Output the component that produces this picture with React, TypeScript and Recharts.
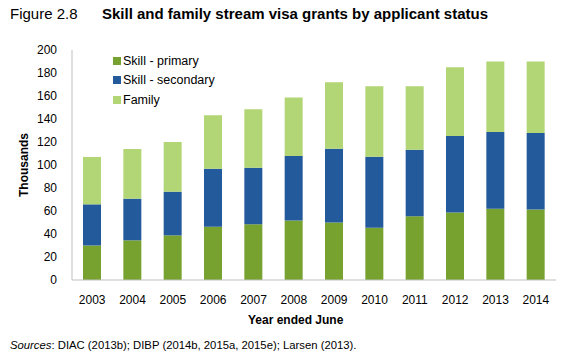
import { BarChart, Bar, XAxis, YAxis } from 'recharts';

const years = ['2003', '2004', '2005', '2006', '2007', '2008', '2009', '2010', '2011', '2012', '2013', '2014'];
const skillPrimary = [30, 34.5, 38.8, 46.4, 48.4, 51.7, 49.9, 45.5, 55.4, 58.6, 62, 61.2];
const skillSecondary = [35.8, 36.2, 38, 50.4, 49.3, 56.1, 64.3, 61.7, 57.9, 66.6, 66.7, 66.6];
const family = [41.2, 43.2, 43.2, 46.4, 50.7, 51, 57.7, 61.2, 55.1, 59.7, 61.4, 62.3];
const yTicks = [0, 20, 40, 60, 80, 100, 120, 140, 160, 180, 200];

const series = [
  { key: 'primary', name: 'Skill - primary', color: '#77A22F' },
  { key: 'secondary', name: 'Skill - secondary', color: '#235A9B' },
  { key: 'family', name: 'Family', color: '#B2D575' },
];

const data = years.map((year, i) => ({
  year,
  primary: skillPrimary[i],
  secondary: skillSecondary[i],
  family: family[i],
}));

const font = 'Arial, "Liberation Sans", sans-serif';

const App = () => {
  return (
    <div style={{ position: 'absolute', left: 0, top: 0, width: 562, height: 357, background: '#fff', fontFamily: font, color: '#000' }}>
      {/* Title */}
      <div style={{ position: 'absolute', left: 10, top: 5, fontSize: 15, whiteSpace: 'nowrap' }}>Figure 2.8</div>
      <div style={{ position: 'absolute', left: 102, top: 5, fontSize: 15, fontWeight: 'bold', whiteSpace: 'nowrap' }}>
        Skill and family stream visa grants by applicant status
      </div>

      <BarChart width={562} height={357} data={data} margin={{ top: 50, right: 6, left: 20, bottom: 47 }} style={{ position: 'absolute', left: 0, top: 0 }}>
        <XAxis
          dataKey="year"
          height={30}
          tickLine={false}
          tickMargin={9}
          axisLine={{ stroke: '#BFBFBF' }}
          tick={{ fontSize: 12, fill: '#000', fontFamily: font }}
        />
        <YAxis
          width={52}
          domain={[0, 200]}
          ticks={yTicks}
          interval={0}
          tickLine={false}
          tickMargin={9}
          axisLine={{ stroke: '#BFBFBF' }}
          tick={{ fontSize: 12, fill: '#000', fontFamily: font }}
          label={{ value: 'Thousands', angle: -90, position: 'insideLeft', offset: 4, style: { fontSize: 12, fontWeight: 'bold', fill: '#000', fontFamily: font, textAnchor: 'middle' } }}
        />
        {series.map((s) => (
          <Bar key={s.key} dataKey={s.key} name={s.name} stackId="a" fill={s.color} barSize={18} isAnimationActive={false} />
        ))}
      </BarChart>

      {/* Legend inside plot */}
      <div style={{ position: 'absolute', left: 113, top: 51 }}>
        {series.map((s) => (
          <div key={s.key} style={{ display: 'flex', alignItems: 'center', height: 19.5, fontSize: 12.5 }}>
            <span style={{ display: 'inline-block', width: 8, height: 8, background: s.color, marginRight: 2 }} />
            <span>{s.name}</span>
          </div>
        ))}
      </div>

      <div style={{ position: 'absolute', left: 248, top: 313, fontSize: 12, fontWeight: 'bold', whiteSpace: 'nowrap' }}>Year ended June</div>
      <div style={{ position: 'absolute', left: 10, top: 339, fontSize: 11.3, whiteSpace: 'nowrap' }}>
        <i>Sources</i>: DIAC (2013b); DIBP (2014b, 2015a, 2015e); Larsen (2013).
      </div>
    </div>
  );
};

export default App;
